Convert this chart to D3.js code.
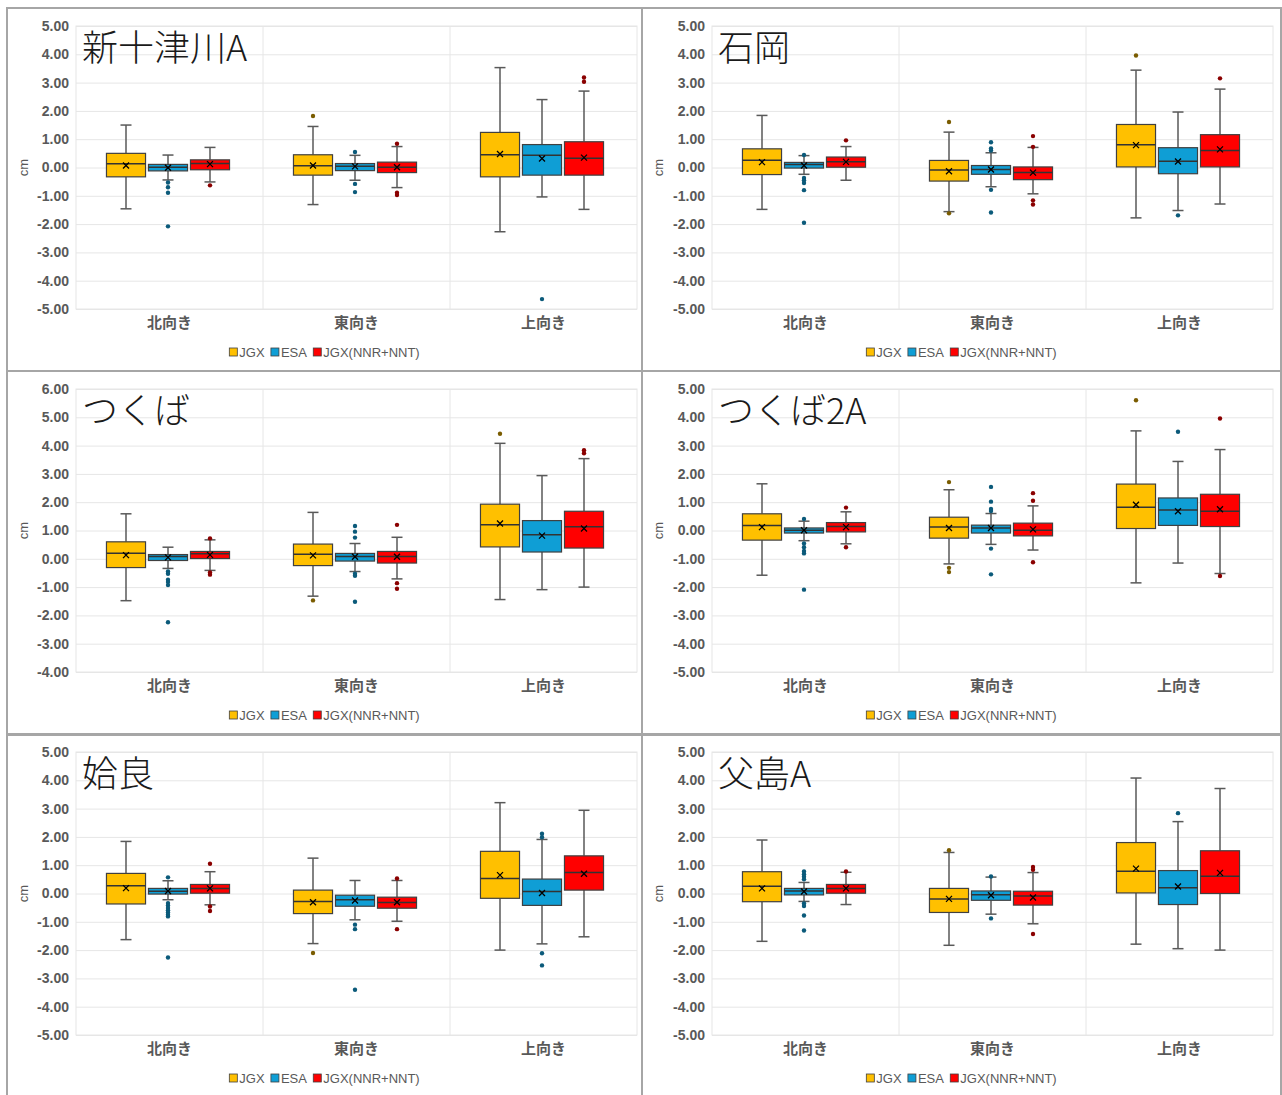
<!DOCTYPE html>
<html>
<head>
<meta charset="utf-8">
<script src="https://cdn.jsdelivr.net/npm/d3@7"></script>
<style>
  body { margin: 0; background: #fff; }
  text { font-family: "Liberation Sans", Arial, sans-serif; }
</style>
</head>
<body>
<script>
// ---- data ----------------------------------------------------------
var stations = ["新十津川A", "石岡", "つくば", "つくば2A", "姶良", "父島A"];
var categories = ["北向き", "東向き", "上向き"];
var seriesNames = ["JGX", "ESA", "JGX(NNR+NNT)"];
var yDomains = [[-5, 5], [-5, 5], [-4, 6], [-5, 5], [-5, 5], [-5, 5]];

// each box: [whiskerLow, q1, median, q3, whiskerHigh, mean, outliers]
var shintotsukawaA = [
  [[-1.46, -0.33, 0.13, 0.50, 1.50, 0.07, []],
   [-0.44, -0.12, 0.01, 0.11, 0.44, -0.01, [-0.53, -0.70, -0.89, -2.08]],
   [-0.51, -0.08, 0.14, 0.27, 0.71, 0.12, [-0.63]]],
  [[-1.31, -0.27, 0.06, 0.45, 1.45, 0.07, [1.82]],
   [-0.45, -0.11, 0.04, 0.14, 0.43, 0.04, [0.55, -0.58, -0.87]],
   [-0.71, -0.18, 0.01, 0.19, 0.74, 0.01, [0.84, -0.89, -0.97]]],
  [[-2.27, -0.33, 0.45, 1.24, 3.53, 0.48, []],
   [-1.04, -0.27, 0.43, 0.81, 2.40, 0.32, [-4.65]],
   [-1.48, -0.27, 0.33, 0.91, 2.70, 0.35, [3.18, 3.03]]]
];
var ishioka = [
  [[-1.48, -0.25, 0.26, 0.66, 1.84, 0.19, []],
   [-0.24, -0.02, 0.11, 0.18, 0.42, 0.07, [0.44, -0.37, -0.45, -0.55, -0.80, -1.95]],
   [-0.45, 0.01, 0.20, 0.37, 0.74, 0.20, [0.96]]],
  [[-1.56, -0.48, -0.09, 0.25, 1.25, -0.13, [1.61, -1.62]],
   [-0.68, -0.24, -0.07, 0.07, 0.52, -0.07, [0.89, 0.67, 0.60, -0.79, -1.59]],
   [-0.93, -0.43, -0.18, 0.02, 0.71, -0.18, [1.11, 0.73, -1.16, -1.31]]],
  [[-1.78, 0.02, 0.80, 1.52, 3.44, 0.79, [3.96]],
   [-1.52, -0.22, 0.22, 0.70, 1.96, 0.21, [-1.69]],
   [-1.29, 0.02, 0.60, 1.16, 2.77, 0.64, [3.15]]]
];
var tsukuba = [
  [[-1.48, -0.31, 0.20, 0.60, 1.59, 0.13, []],
   [-0.34, -0.06, 0.08, 0.15, 0.41, 0.05, [-0.45, -0.53, -0.74, -0.82, -0.93, -2.24]],
   [-0.41, 0.01, 0.18, 0.26, 0.67, 0.14, [0.72, -0.48, -0.56]]],
  [[-1.32, -0.24, 0.16, 0.52, 1.64, 0.12, [-1.47]],
   [-0.45, -0.08, 0.08, 0.19, 0.54, 0.07, [1.16, 0.96, 0.75, -0.53, -0.60, -1.52]],
   [-0.71, -0.15, 0.08, 0.26, 0.76, 0.07, [1.20, -0.86, -1.06]]],
  [[-1.44, 0.42, 1.20, 1.93, 4.08, 1.25, [4.42]],
   [-1.09, 0.24, 0.85, 1.35, 2.94, 0.82, []],
   [-1.00, 0.38, 1.13, 1.68, 3.54, 1.07, [3.84, 3.73]]]
];
var tsukuba2A = [
  [[-1.58, -0.34, 0.18, 0.59, 1.65, 0.12, []],
   [-0.36, -0.09, 0.01, 0.09, 0.33, 0.01, [0.41, -0.46, -0.59, -0.72, -0.81, -2.09]],
   [-0.47, -0.05, 0.14, 0.28, 0.66, 0.12, [0.81, -0.59]]],
  [[-1.18, -0.27, 0.12, 0.47, 1.44, 0.09, [1.71, -1.32, -1.47]],
   [-0.49, -0.09, 0.09, 0.19, 0.60, 0.09, [1.54, 1.02, 0.76, 0.69, -0.64, -1.55]],
   [-0.69, -0.19, 0.01, 0.26, 0.87, 0.04, [1.32, 1.05, -1.12]]],
  [[-1.85, 0.07, 0.82, 1.64, 3.52, 0.91, [4.60]],
   [-1.15, 0.18, 0.72, 1.15, 2.44, 0.68, [3.49]],
   [-1.52, 0.14, 0.68, 1.28, 2.86, 0.75, [3.96, -1.61]]]
];
var aira = [
  [[-1.63, -0.37, 0.27, 0.71, 1.84, 0.19, []],
   [-0.22, -0.02, 0.08, 0.18, 0.45, 0.09, [0.57, -0.34, -0.42, -0.51, -0.59, -0.67, -0.75, -0.81, -2.26]],
   [-0.40, 0.01, 0.18, 0.32, 0.77, 0.18, [1.05, -0.46, -0.62]]],
  [[-1.77, -0.71, -0.28, 0.12, 1.25, -0.31, [-2.10]],
   [-0.93, -0.45, -0.22, -0.06, 0.46, -0.25, [-1.10, -1.26, -3.40]],
   [-0.98, -0.52, -0.32, -0.13, 0.46, -0.31, [0.53, -1.26]]],
  [[-2.00, -0.17, 0.53, 1.49, 3.21, 0.65, []],
   [-1.78, -0.42, 0.07, 0.51, 1.91, 0.02, [2.11, 1.99, -2.11, -2.54]],
   [-1.53, 0.12, 0.74, 1.33, 2.94, 0.70, []]]
];
var chichijimaA = [
  [[-1.69, -0.29, 0.26, 0.77, 1.89, 0.18, []],
   [-0.28, -0.05, 0.09, 0.18, 0.39, 0.07, [0.78, 0.68, 0.59, 0.50, -0.35, -0.44, -0.78, -1.31]],
   [-0.39, 0.01, 0.18, 0.32, 0.75, 0.18, [0.78]]],
  [[-1.83, -0.67, -0.19, 0.18, 1.45, -0.19, [1.53]],
   [-0.73, -0.24, -0.04, 0.09, 0.58, -0.06, [0.60, -0.88]],
   [-1.07, -0.41, -0.09, 0.08, 0.74, -0.14, [0.94, 0.84, -1.43]]],
  [[-1.79, 0.02, 0.79, 1.80, 4.08, 0.88, []],
   [-1.95, -0.39, 0.20, 0.81, 2.54, 0.25, [2.84]],
   [-2.00, 0.00, 0.61, 1.51, 3.71, 0.73, []]]
];
var stationData = [shintotsukawaA, ishioka, tsukuba, tsukuba2A, aira, chichijimaA];

// ---- styles --------------------------------------------------------
var fillColors = ["#FFC000", "#0F9ED5", "#FF0000"];
var dotColors = ["#7a5c00", "#0b5a7a", "#8a0000"];
var textGray = "#595959";

var W = 1282, H = 1095;
var panelX = [7, 642], panelY = [8, 371, 735];
var plotW = 561, plotH = 283;

var fmt = function(v) { return d3.format(".2f")(v).replace("\u2212", "-"); };

var svg = d3.select("body").append("svg")
    .attr("width", W)
    .attr("height", H);

svg.append("rect").attr("width", W).attr("height", H).attr("fill", "#fff");

stations.forEach(function(name, i) {
  var col = i % 2, row = Math.floor(i / 2);
  var px = panelX[col], py = panelY[row];
  var pw = col === 0 ? 635 : 639;
  var ph = row === 2 ? 400 : 363;
  var offX = col === 0 ? 69 : 70;
  var offY = row === 2 ? 17 : 18;

  svg.append("rect")
      .attr("x", px).attr("y", py)
      .attr("width", pw).attr("height", ph)
      .attr("fill", "none")
      .attr("stroke", "#a6a6a6")
      .attr("stroke-width", 2);

  var g = svg.append("g")
      .attr("transform", "translate(" + (px + offX) + "," + (py + offY) + ")");

  var dom = yDomains[i];
  var y = d3.scaleLinear().domain(dom).range([plotH, 0]);
  var x = d3.scaleBand().domain(categories).range([0, plotW]);
  var xs = d3.scaleBand().domain(seriesNames)
      .range([29, 155]).paddingInner(0.07).paddingOuter(0.035);
  var ticks = d3.range(dom[0], dom[1] + 1);

  // gridlines
  g.append("g")
      .call(d3.axisLeft(y).tickValues(ticks).tickSize(-plotW).tickFormat(""))
      .call(function(s) {
        s.select(".domain").remove();
        s.selectAll("line").attr("stroke", "#e6e6e6");
      });
  g.selectAll(".vline")
      .data(categories.slice(1))
    .enter().append("line")
      .attr("x1", function(d) { return x(d); })
      .attr("x2", function(d) { return x(d); })
      .attr("y1", 0).attr("y2", plotH)
      .attr("stroke", "#e6e6e6");
  g.append("rect")
      .attr("width", plotW).attr("height", plotH)
      .attr("fill", "none").attr("stroke", "#e6e6e6");

  // y axis labels
  g.append("g")
      .call(d3.axisLeft(y).tickValues(ticks).tickSize(0).tickPadding(7)
        .tickFormat(fmt))
      .call(function(s) {
        s.select(".domain").remove();
        s.selectAll("text")
            .attr("fill", textGray)
            .style("font-size", "14px")
            .style("font-weight", "bold");
      });

  // x axis labels
  g.append("g")
      .attr("transform", "translate(0," + plotH + ")")
      .call(d3.axisBottom(x).tickSize(0).tickPadding(8))
      .call(function(s) {
        s.select(".domain").remove();
        s.selectAll("text")
            .attr("fill", textGray)
            .style("font-family", "'Noto Sans CJK JP', sans-serif")
            .style("font-size", "15px")
            .style("font-weight", "bold");
      });

  g.append("text")
      .attr("transform", "translate(" + (-offX + 16) + "," + (plotH / 2) + ") rotate(-90)")
      .attr("text-anchor", "middle")
      .attr("dy", "0.35em")
      .attr("fill", textGray)
      .style("font-size", "13px")
      .text("cm");

  // title
  g.append("text")
      .attr("x", 6).attr("y", 35)
      .attr("fill", "#1a1a1a")
      .style("font-family", "'Noto Sans CJK JP', sans-serif")
      .style("font-size", "36px")
      .style("font-weight", 300)
      .text(name);

  // boxes
  var data = stationData[i];
  categories.forEach(function(cat, ci) {
    seriesNames.forEach(function(sn, si) {
      var b = data[ci][si];
      var x0 = x(cat) + xs(sn), bw = xs.bandwidth(), cx = x0 + bw / 2;
      var bg = g.append("g");
      var cap = 5.5;
      bg.append("line")
          .attr("x1", cx).attr("x2", cx)
          .attr("y1", y(b[4])).attr("y2", y(b[3]))
          .attr("stroke", "#595959").attr("stroke-width", 1.5);
      bg.append("line")
          .attr("x1", cx).attr("x2", cx)
          .attr("y1", y(b[1])).attr("y2", y(b[0]))
          .attr("stroke", "#595959").attr("stroke-width", 1.5);
      [b[0], b[4]].forEach(function(v) {
        bg.append("line")
            .attr("x1", cx - cap).attr("x2", cx + cap)
            .attr("y1", y(v)).attr("y2", y(v))
            .attr("stroke", "#595959").attr("stroke-width", 1.5);
      });
      bg.append("rect")
          .attr("x", x0).attr("y", y(b[3]))
          .attr("width", bw).attr("height", y(b[1]) - y(b[3]))
          .attr("fill", fillColors[si])
          .attr("stroke", "#404040").attr("stroke-width", 1.2);
      bg.append("line")
          .attr("x1", x0).attr("x2", x0 + bw)
          .attr("y1", y(b[2])).attr("y2", y(b[2]))
          .attr("stroke", "#333").attr("stroke-width", 1.5);
      var my = y(b[5]), m = 3;
      bg.append("path")
          .attr("d", "M" + (cx - m) + "," + (my - m) + "L" + (cx + m) + "," + (my + m) +
                     "M" + (cx - m) + "," + (my + m) + "L" + (cx + m) + "," + (my - m))
          .attr("stroke", "#000").attr("stroke-width", 1.3);
      bg.selectAll("circle")
          .data(b[6])
        .enter().append("circle")
          .attr("cx", cx).attr("cy", function(d) { return y(d); })
          .attr("r", 2.2)
          .attr("fill", dotColors[si]);
    });
  });

  // legend
  var lg = svg.append("g")
      .attr("transform", "translate(" + (px + pw / 2) + "," + (py + offY + plotH + 43) + ")");
  var items = lg.selectAll("g").data(seriesNames).enter().append("g");
  items.append("rect")
      .attr("y", -4).attr("width", 8).attr("height", 8)
      .attr("fill", function(d, k) { return fillColors[k]; })
      .attr("stroke", "#404040").attr("stroke-width", 0.8);
  items.append("text")
      .attr("x", 10).attr("dy", "0.35em")
      .attr("fill", textGray)
      .style("font-size", "13px")
      .text(function(d) { return d; });
  var pos = 0, widths = [];
  items.each(function() { widths.push(this.getBBox().width); });
  var total = d3.sum(widths) + 6 * (widths.length - 1);
  items.attr("transform", function(d, k) {
    var t = "translate(" + (pos - total / 2) + ",0)";
    pos += widths[k] + 6;
    return t;
  });
});
</script>
</body>
</html>
